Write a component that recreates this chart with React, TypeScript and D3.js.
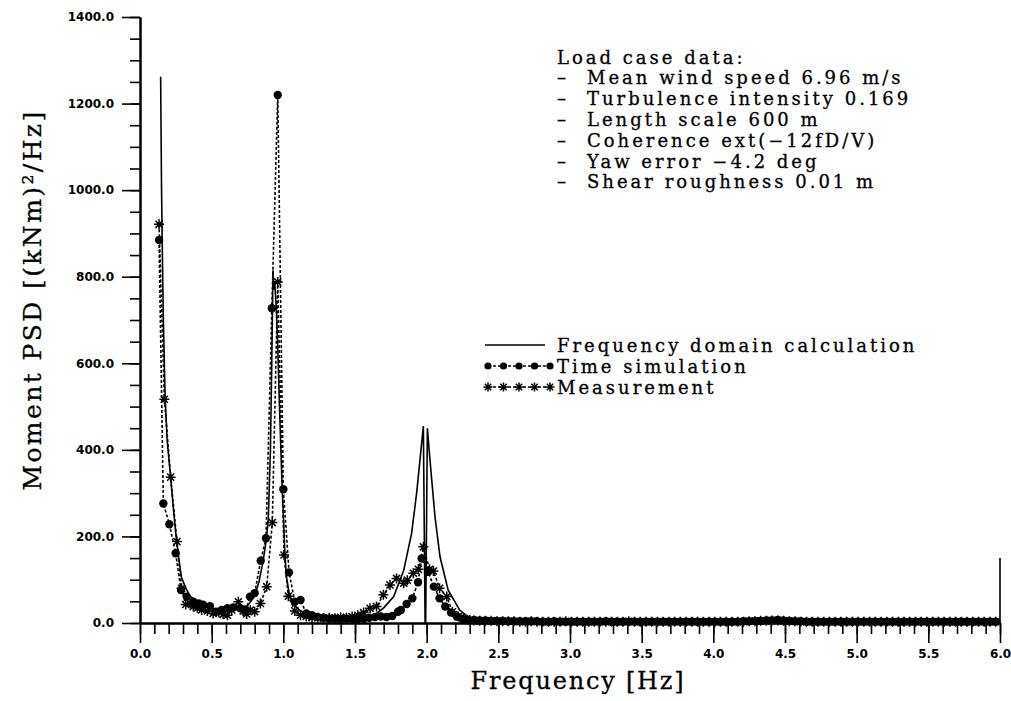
import React, { useEffect, useRef } from 'react';
import * as d3 from 'd3';

// frequency domain calculation (solid line)
const calcFreq = [0.144, 0.15, 0.157, 0.163, 0.175, 0.19, 0.214, 0.23, 0.25, 0.27, 0.29, 0.32, 0.35, 0.4, 0.45, 0.5, 0.53, 0.57, 0.6, 0.65, 0.7, 0.75, 0.8, 0.83, 0.86, 0.88, 0.895, 0.91, 0.92, 0.928, 0.934, 0.94, 0.95, 0.96, 0.975, 0.99, 1.0, 1.01, 1.02, 1.04, 1.06, 1.1, 1.15, 1.2, 1.3, 1.4, 1.5, 1.6, 1.65, 1.7, 1.77, 1.84, 1.895, 1.93, 1.958, 1.977, 1.989, 1.993, 2.005, 2.023, 2.058, 2.093, 2.15, 2.23, 2.3, 2.4, 2.6, 3.0, 4.0, 5.0, 6.0, 6.0];
const calcPsd = [1262, 1010, 830, 700, 525, 420, 335, 275, 205, 150, 105, 80, 62, 50, 43, 35, 30, 28, 30, 35, 37, 40, 62, 95, 145, 190, 240, 400, 620, 815, 770, 790, 730, 650, 480, 330, 250, 170, 110, 70, 50, 33, 22, 16, 11, 9, 10, 15, 22, 35, 61, 122, 207, 300, 392, 455, 0, 0, 450, 377, 246, 153, 76, 30, 11, 6, 4, 3, 2, 2, 2, 150];

// time simulation (dots)
const simFreq = [0.133, 0.163, 0.205, 0.249, 0.286, 0.326, 0.372, 0.41, 0.44, 0.488, 0.53, 0.57, 0.61, 0.65, 0.7, 0.74, 0.767, 0.8, 0.842, 0.879, 0.92, 0.961, 1.0, 1.04, 1.08, 1.12, 1.16, 1.2, 1.24, 1.28, 1.32, 1.36, 1.4, 1.44, 1.48, 1.52, 1.56, 1.6, 1.64, 1.68, 1.72, 1.76, 1.8, 1.82, 1.86, 1.9, 1.94, 1.965, 2.01, 2.05, 2.09, 2.13, 2.17, 2.21, 2.25, 2.29];
const simPsd = [885, 276, 228, 161, 76, 61, 49, 45, 42, 39, 26, 30, 34, 36, 34, 30, 61, 69, 144, 196, 727, 1220, 309, 117, 49, 53, 22, 18, 14, 12, 10, 10, 9, 10, 9, 9, 10, 12, 14, 15, 14, 16, 26, 30, 44, 57, 94, 149, 118, 84, 57, 38, 24, 15, 10, 7];

// measurement (stars)
const measFreq = [0.133, 0.17, 0.214, 0.258, 0.29, 0.319, 0.35, 0.372, 0.4, 0.43, 0.47, 0.51, 0.55, 0.58, 0.61, 0.64, 0.686, 0.72, 0.744, 0.77, 0.8, 0.84, 0.884, 0.923, 0.961, 1.005, 1.035, 1.08, 1.12, 1.16, 1.2, 1.24, 1.28, 1.32, 1.36, 1.4, 1.44, 1.48, 1.52, 1.56, 1.605, 1.65, 1.698, 1.744, 1.79, 1.84, 1.865, 1.907, 1.942, 1.977, 2.02, 2.047, 2.09, 2.14, 2.18, 2.22, 2.26, 2.3];
const measPsd = [921, 517, 337, 188, 80, 43, 45, 38, 35, 30, 28, 22, 25, 20, 18, 30, 49, 28, 21, 30, 26, 45, 84, 232, 788, 157, 62, 28, 18, 15, 12, 12, 11, 12, 11, 13, 12, 15, 18, 24, 34, 38, 65, 88, 103, 92, 99, 115, 124, 176, 124, 120, 80, 61, 26, 15, 10, 7];

// high frequency tail, shared by both sampled series
const tailFreq = [2.33, 2.37, 2.41, 2.45, 2.49, 2.53, 2.57, 2.61, 2.65, 2.69,
  2.73, 2.77, 2.81, 2.85, 2.89, 2.93, 2.97, 3.01, 3.05, 3.09,
  3.13, 3.17, 3.21, 3.25, 3.29, 3.33, 3.37, 3.41, 3.45, 3.49,
  3.53, 3.57, 3.61, 3.65, 3.69, 3.73, 3.77, 3.81, 3.85, 3.89,
  3.93, 3.97, 4.01, 4.05, 4.09, 4.13, 4.17, 4.21, 4.25, 4.29,
  4.33, 4.37, 4.41, 4.45, 4.49, 4.53, 4.57, 4.61, 4.65, 4.69,
  4.73, 4.77, 4.81, 4.85, 4.89, 4.93, 4.97, 5.01, 5.05, 5.09,
  5.13, 5.17, 5.21, 5.25, 5.29, 5.33, 5.37, 5.41, 5.45, 5.49,
  5.53, 5.57, 5.61, 5.65, 5.69, 5.73, 5.77, 5.81, 5.85, 5.89,
  5.93, 5.97];
const tailSim = [7, 6, 6, 5, 5, 5, 4, 4, 4, 4, 4, 4, 3, 3, 4, 3, 3, 3, 3, 3, 3, 3, 3, 4, 3, 3, 3, 3, 3, 3, 3, 3, 3, 3, 3, 3, 3, 3, 3, 3, 3, 3, 3, 3, 3, 3, 3, 4, 4, 5, 5, 6, 6, 7, 6, 5, 4, 4, 3, 3, 3, 3, 3, 3, 3, 3, 3, 3, 3, 3, 3, 3, 3, 3, 3, 3, 3, 3, 3, 3, 3, 3, 3, 3, 3, 3, 3, 3, 3, 3, 3, 3];
const tailMeas = [6, 5, 5, 5, 4, 4, 4, 4, 3, 3, 4, 3, 3, 3, 3, 3, 4, 3, 3, 3, 3, 3, 3, 3, 3, 3, 3, 4, 3, 3, 3, 3, 3, 3, 3, 3, 3, 3, 3, 3, 3, 3, 3, 3, 3, 3, 3, 3, 4, 4, 5, 5, 6, 6, 5, 4, 4, 3, 3, 3, 3, 3, 3, 3, 3, 3, 3, 3, 3, 3, 3, 3, 3, 3, 3, 3, 3, 3, 3, 3, 3, 3, 3, 3, 3, 3, 3, 3, 3, 3, 3, 3];

const xTicks = [0, 0.5, 1, 1.5, 2, 2.5, 3, 3.5, 4, 4.5, 5, 5.5, 6];
const yTicks = [0, 200, 400, 600, 800, 1000, 1200, 1400];

const loadCaseTitle = 'Load case data:';
const loadCase = [
  'Mean wind speed 6.96 m/s',
  'Turbulence intensity 0.169',
  'Length scale 600 m',
  'Coherence ext(\u221212fD/V)',
  'Yaw error \u22124.2 deg',
  'Shear roughness 0.01 m',
];
const legendNames = ['Frequency domain calculation', 'Time simulation', 'Measurement'];

const serif = "'DejaVu Serif', serif";

function starPath(r: number) {
  const d = r * 0.7071;
  return `M${-r},0L${r},0M0,${-r}L0,${r}M${-d},${-d}L${d},${d}M${-d},${d}L${d},${-d}`;
}

export default function App() {
  const ref = useRef<SVGSVGElement>(null);

  useEffect(() => {
    const svg = d3.select(ref.current);
    svg.selectAll('*').remove();

    const x = d3.scaleLinear().domain([0, 6]).range([140, 1000]);
    const y = d3.scaleLinear().domain([0, 1400]).range([623, 17]);

    // axes: minor ticks first, then major with labels
    svg.append('g')
      .attr('transform', 'translate(0,623)')
      .call(d3.axisBottom(x).tickValues(d3.range(0, 61).map(i => i / 10)).tickSize(11).tickSizeOuter(0).tickFormat(() => ''));
    svg.append('g')
      .attr('transform', 'translate(0,623)')
      .call(d3.axisBottom(x).tickValues(xTicks).tickSize(20).tickSizeOuter(0).tickPadding(6).tickFormat(d3.format('.1f')));
    svg.append('g')
      .attr('transform', 'translate(140,0)')
      .call(d3.axisLeft(y).tickValues(d3.range(0, 29).map(i => i * 50)).tickSize(10).tickSizeOuter(0).tickFormat(() => ''));
    svg.append('g')
      .attr('transform', 'translate(140,0)')
      .call(d3.axisLeft(y).tickValues(yTicks).tickSize(18).tickSizeOuter(0).tickPadding(8).tickFormat(d3.format('.1f')));

    svg.selectAll('.domain').attr('stroke', '#000').attr('stroke-width', 2);
    svg.selectAll('.tick line').attr('stroke', '#000').attr('stroke-width', 1.6);
    svg.selectAll('.tick text')
      .attr('fill', '#000')
      .style('font-family', "'DejaVu Sans', sans-serif")
      .style('font-weight', 'bold')
      .style('font-size', '12px');

    // axis titles
    svg.append('text')
      .attr('x', 578).attr('y', 689)
      .attr('text-anchor', 'middle')
      .attr('letter-spacing', 1.8)
      .attr('stroke', '#000').attr('stroke-width', 0.3)
      .style('font-family', serif).style('font-size', '24px')
      .text('Frequency [Hz]');
    svg.append('text')
      .attr('transform', 'translate(41,300) rotate(-90)')
      .attr('text-anchor', 'middle')
      .attr('letter-spacing', 2.4)
      .attr('stroke', '#000').attr('stroke-width', 0.3)
      .style('font-family', serif).style('font-size', '25px')
      .text('Moment PSD [(kNm)\u00B2/Hz]');

    const line = d3.line<[number, number]>().x(d => x(d[0])).y(d => y(d[1]));

    const calc: [number, number][] = calcFreq.map((f, i) => [f, calcPsd[i]]);
    const sim: [number, number][] = simFreq.concat(tailFreq).map((f, i) => [f, simPsd.concat(tailSim)[i]]);
    const meas: [number, number][] = measFreq.concat(tailFreq).map((f, i) => [f, measPsd.concat(tailMeas)[i]]);

    svg.append('path').datum(sim)
      .attr('fill', 'none').attr('stroke', '#000').attr('stroke-width', 1.6)
      .attr('stroke-dasharray', '3,2').attr('d', line);
    svg.append('path').datum(meas)
      .attr('fill', 'none').attr('stroke', '#000').attr('stroke-width', 1.6)
      .attr('stroke-dasharray', '3,2').attr('d', line);
    svg.append('path').datum(calc)
      .attr('fill', 'none').attr('stroke', '#000').attr('stroke-width', 1.6).attr('d', line);

    svg.append('g').selectAll('circle').data(sim).enter().append('circle')
      .attr('cx', d => x(d[0])).attr('cy', d => y(d[1])).attr('r', 4.2).attr('fill', '#000');
    svg.append('g').selectAll('path').data(meas).enter().append('path')
      .attr('transform', d => `translate(${x(d[0])},${y(d[1])})`)
      .attr('d', starPath(5)).attr('stroke', '#000').attr('stroke-width', 1.5).attr('fill', 'none');

    // load case annotation
    const ann = svg.append('g')
      .attr('letter-spacing', 3)
      .attr('stroke', '#000').attr('stroke-width', 0.3)
      .style('font-family', serif).style('font-size', '18px');
    ann.append('text').attr('x', 557).attr('y', 63.5).text(loadCaseTitle);
    loadCase.forEach((t, i) => {
      ann.append('text').attr('x', 557).attr('y', 84.3 + i * 20.8).text('\u2013');
      ann.append('text').attr('x', 587).attr('y', 84.3 + i * 20.8).text(t);
    });

    // legend
    const lg = svg.append('g');
    const ly = [345, 366, 387];
    lg.selectAll('text').data(legendNames).enter().append('text')
      .attr('x', 557).attr('y', (d, i) => ly[i] + 7)
      .attr('letter-spacing', 3)
      .attr('stroke', '#000').attr('stroke-width', 0.3)
      .style('font-family', serif).style('font-size', '18px')
      .text(d => d);
    lg.append('line').attr('x1', 485).attr('x2', 545).attr('y1', ly[0]).attr('y2', ly[0])
      .attr('stroke', '#000').attr('stroke-width', 1.6);
    const sx = d3.range(5).map(i => 488 + i * 15.5);
    lg.append('line').attr('x1', sx[0]).attr('x2', sx[4]).attr('y1', ly[1]).attr('y2', ly[1])
      .attr('stroke', '#000').attr('stroke-width', 1.6).attr('stroke-dasharray', '3,2');
    lg.selectAll('circle').data(sx).enter().append('circle')
      .attr('cx', d => d).attr('cy', ly[1]).attr('r', 3.6).attr('fill', '#000');
    lg.append('line').attr('x1', sx[0]).attr('x2', sx[4]).attr('y1', ly[2]).attr('y2', ly[2])
      .attr('stroke', '#000').attr('stroke-width', 1.6).attr('stroke-dasharray', '3,2');
    lg.selectAll('path.star').data(sx).enter().append('path')
      .attr('class', 'star')
      .attr('transform', d => `translate(${d},${ly[2]})`)
      .attr('d', starPath(4.5)).attr('stroke', '#000').attr('stroke-width', 1.5);
  }, []);

  return (
    <svg ref={ref} width={1011} height={701}
      style={{ position: 'absolute', left: 0, top: 0, background: '#fff' }} />
  );
}
